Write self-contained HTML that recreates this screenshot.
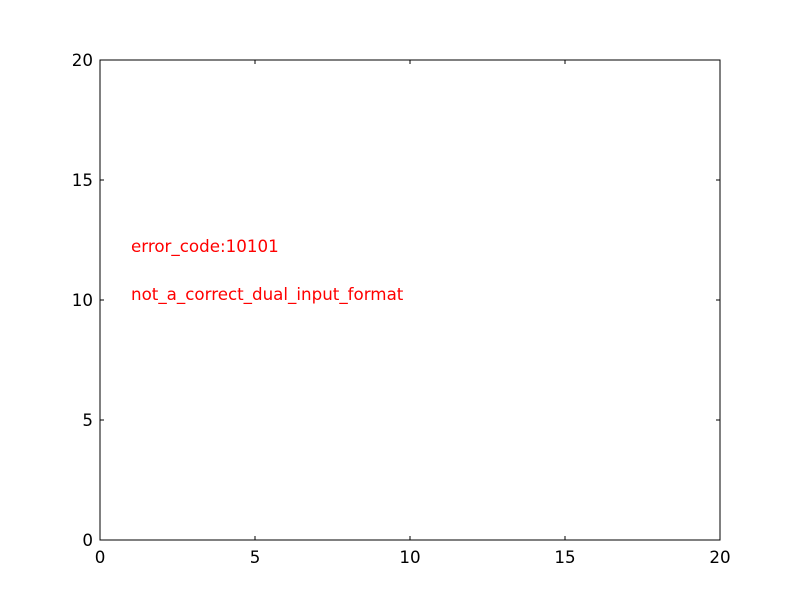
<!DOCTYPE html>
<html><head><meta charset="utf-8"><style>
html,body{margin:0;padding:0;background:#fff;}
svg{display:block;}
text{font-family:"DejaVu Sans","Liberation Sans",sans-serif;}
</style></head><body>
<svg id="chart" width="800" height="600" xmlns="http://www.w3.org/2000/svg">
<rect x="0" y="0" width="800" height="600" fill="#fff"/>
<g id="ticks"></g>
<g id="labels"></g>
<rect x="100" y="60" width="620" height="480" fill="none" stroke="#000" stroke-width="1"/>
</svg>
<script>
const xTicks = [0, 5, 10, 15, 20];
const yTicks = [0, 5, 10, 15, 20];
const messages = ["error_code:10101", "not_a_correct_dual_input_format"];
const messageY = [12, 10];
const messageX = [1, 1];

const L=100,R=720,T=60,B=540;
const xMin=0,xMax=20,yMin=0,yMax=20;
function sx(v){return L+(v-xMin)/(xMax-xMin)*(R-L);}
function sy(v){return B-(v-yMin)/(yMax-yMin)*(B-T);}
const NS="http://www.w3.org/2000/svg";
const tg=document.getElementById('ticks');
const lg=document.getElementById('labels');
function line(x1,y1,x2,y2,name){
  const l=document.createElementNS(NS,'line');
  l.setAttribute('x1',x1);l.setAttribute('y1',y1);l.setAttribute('x2',x2);l.setAttribute('y2',y2);
  l.setAttribute('stroke','#000');l.setAttribute('stroke-width','1');
  
  
  tg.appendChild(l);
}
function txt(x,y,s,anchor,fill,name,g){
  const t=document.createElementNS(NS,'text');
  t.setAttribute('x',x);t.setAttribute('y',y);t.setAttribute('text-anchor',anchor);
  t.setAttribute('font-size','16.7');t.setAttribute('fill',fill);
  t.textContent=s;
  
  
  g.appendChild(t);
}
xTicks.forEach(v=>{
  const x=sx(v);
  line(x,B,x,B-4,'x-tick');
  line(x,T,x,T+4,'x-tick-top');
  txt(x,B+23,String(v),'middle','#000','x-tick-label',tg);
});
yTicks.forEach(v=>{
  const y=sy(v);
  line(L,y,L+4,y,'y-tick');
  line(R,y,R-4,y,'y-tick-right');
  txt(L-7,y+6,String(v),'end','#000','y-tick-label',tg);
});
messages.forEach((m,i)=>{
  txt(sx(messageX[i]),sy(messageY[i]),m,'start','#ff0000','error-message',lg);
});
</script>
</body></html>
